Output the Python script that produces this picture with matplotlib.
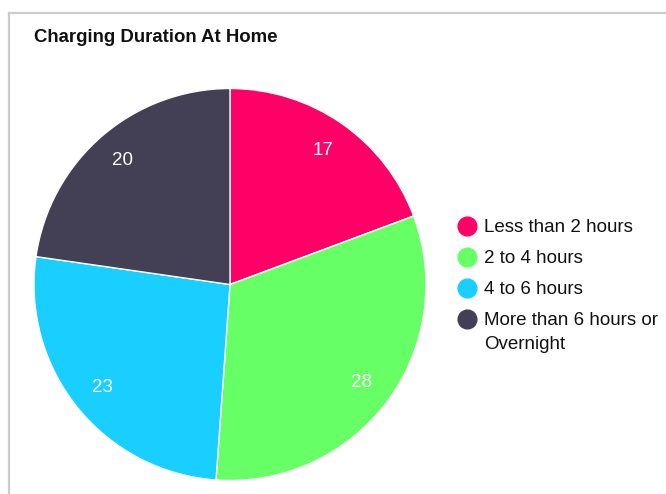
import matplotlib
matplotlib.use("Agg")
import matplotlib.pyplot as plt
from matplotlib.lines import Line2D

categories = ["Less than 2 hours", "2 to 4 hours", "4 to 6 hours", "More than 6 hours or\nOvernight"]
values = [17, 28, 23, 20]
colors = ["#FF0066", "#66FF66", "#18CFFF", "#433F55"]
title = "Charging Duration At Home"

W, H = 666, 494
fig = plt.figure(figsize=(W/100, H/100), dpi=100)
plt.rcParams['font.family'] = ['Liberation Sans', 'DejaVu Sans']

# border (top and left)
fig.add_artist(Line2D([9/W, 9/W], [0, 1 - 13/H], color="#cccccc", lw=1.6, transform=fig.transFigure))
fig.add_artist(Line2D([9/W, 1], [1 - 13/H, 1 - 13/H], color="#cccccc", lw=1.6, transform=fig.transFigure))

fig.text(34/W, 1 - 37/H, title, fontsize=13.4, fontweight="bold", va="center", ha="left", color="#111111")

cx, cy, r = 230, 284.5, 196
ax = fig.add_axes([(cx - r)/W, (H - cy - r)/H, 2*r/W, 2*r/H])
wedges, texts = ax.pie(values, colors=colors, startangle=90, counterclock=False,
                       labels=[str(v) for v in values], labeldistance=0.835,
                       wedgeprops=dict(edgecolor="white", linewidth=1.0),
                       textprops=dict(color="white", fontsize=13.5, ha="center", va="center"))
ax.set_xlim(-1, 1); ax.set_ylim(-1, 1)
ax.set_aspect("equal")
ax.axis("off")

# legend drawn manually
row0, row_step, line_step = 226, 31, 24
for i, (lab, c) in enumerate(zip(categories, colors)):
    y = row0 + row_step * i
    fig.add_artist(Line2D([467/W], [1 - y/H], marker="o", linestyle="", markersize=13.5,
                          markerfacecolor=c, markeredgecolor=c, transform=fig.transFigure))
    for j, line in enumerate(lab.split("\n")):
        fig.text(484/W, 1 - (y + 1.5 + line_step * j)/H, line, fontsize=13.5, va="center", ha="left",
                 color="#111111")

fig.savefig("out.png", dpi=100)
